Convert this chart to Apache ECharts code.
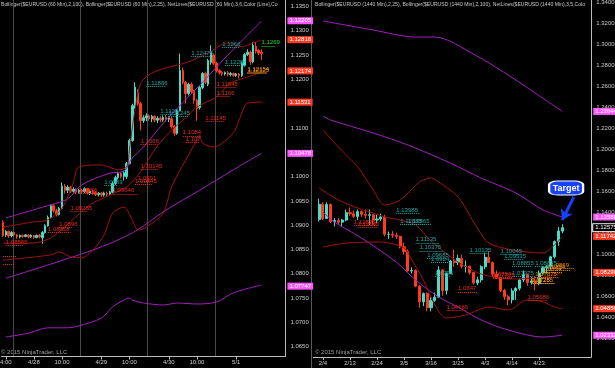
<!DOCTYPE html>
<html><head><meta charset="utf-8">
<script src="https://cdn.jsdelivr.net/npm/echarts@6/dist/echarts.min.js"></script>
<style>html,body{margin:0;padding:0;background:#000;}#c{width:615px;height:368px;}</style>
</head><body><div id="c"></div>
<script>
// ---------------- LEFT PANEL (60 min) ----------------
const leftOpen  = [1.0906,1.0880,1.0887,1.0878,1.0885,1.0880,1.0876,1.0879,1.0877,1.0880,
 1.0876,1.0879,1.0875,1.0879,1.0874,1.0885,1.0899,1.0916,1.0940,1.0930,
 1.0922,1.0935,1.0980,1.0972,1.0978,1.0970,1.0974,1.0968,1.0972,1.0969,
 1.0975,1.0966,1.0970,1.0967,1.0963,1.0966,1.0962,1.0966,1.0964,1.0968,
 1.0986,1.0998,1.1006,1.1000,1.1000,1.1027,1.1074,1.1146,1.1173,1.1150,
 1.1115,1.1121,1.1125,1.1119,1.1124,1.1116,1.1120,1.1117,1.1122,1.1118,
 1.1119,1.1103,1.1089,1.1136,1.1218,1.1194,1.1171,1.1190,1.1175,1.1157,
 1.1142,1.1183,1.1212,1.1190,1.1235,1.1250,1.1233,1.1218,1.1214,1.1211,
 1.1214,1.1210,1.1212,1.1208,1.1211,1.1208,1.1229,1.1251,1.1256,1.1236,
 1.1268,1.1260,1.1256];
const leftClose = [1.0879,1.0887,1.0878,1.0885,1.0880,1.0876,1.0879,1.0877,1.0880,1.0876,
 1.0879,1.0875,1.0879,1.0876,1.0885,1.0899,1.0916,1.0940,1.0930,1.0922,
 1.0935,1.0980,1.0972,1.0978,1.0970,1.0974,1.0968,1.0972,1.0969,1.0975,
 1.0966,1.0970,1.0967,1.0963,1.0966,1.0962,1.0966,1.0964,1.0968,1.0986,
 1.0998,1.1006,1.1000,1.1008,1.1027,1.1074,1.1146,1.1184,1.1150,1.1115,
 1.1121,1.1125,1.1119,1.1124,1.1116,1.1120,1.1117,1.1122,1.1118,1.1121,
 1.1103,1.1089,1.1136,1.1218,1.1194,1.1171,1.1190,1.1175,1.1157,1.1140,
 1.1183,1.1212,1.1194,1.1239,1.1255,1.1233,1.1218,1.1214,1.1211,1.1214,
 1.1210,1.1212,1.1208,1.1211,1.1208,1.1233,1.1251,1.1256,1.1236,1.1270,
 1.1258,1.1254,1.1253];
const leftLow   = [1.0876,1.0876,1.0874,1.0875,1.0877,1.0872,1.0873,1.0874,1.0875,1.0873,
 1.0874,1.0872,1.0873,1.0873,1.0862,1.0883,1.0897,1.0914,1.0926,1.0918,
 1.0920,1.0933,1.0965,1.0966,1.0966,1.0967,1.0964,1.0965,1.0965,1.0966,
 1.0963,1.0962,1.0963,1.0960,1.0959,1.0958,1.0959,1.0960,1.0962,1.0966,
 1.0983,1.0994,1.0996,1.0992,1.0995,1.1025,1.1072,1.1140,1.1146,1.1095,
 1.1110,1.1114,1.1115,1.1112,1.1112,1.1110,1.1112,1.1113,1.1113,1.1112,
 1.1099,1.1084,1.1086,1.1134,1.1190,1.1150,1.1167,1.1170,1.1150,1.1115,
 1.1138,1.1180,1.1190,1.1186,1.1230,1.1229,1.1214,1.1210,1.1207,1.1208,
 1.1206,1.1206,1.1205,1.1205,1.1202,1.1205,1.1226,1.1248,1.1230,1.1233,
 1.1253,1.1250,1.1240];
const leftHigh  = [1.0910,1.0890,1.0889,1.0888,1.0887,1.0882,1.0881,1.0881,1.0882,1.0882,
 1.0881,1.0880,1.0881,1.0882,1.0888,1.0902,1.0920,1.0943,1.0944,1.0934,
 1.0938,1.0988,1.0985,1.0982,1.0981,1.0978,1.0976,1.0975,1.0975,1.0978,
 1.0977,1.0973,1.0972,1.0970,1.0968,1.0968,1.0969,1.0969,1.0971,1.0990,
 1.1002,1.1010,1.1010,1.1012,1.1030,1.1078,1.1150,1.1194,1.1180,1.1154,
 1.1126,1.1130,1.1128,1.1127,1.1126,1.1124,1.1124,1.1126,1.1127,1.1124,
 1.1123,1.1106,1.1139,1.1253,1.1224,1.1197,1.1193,1.1194,1.1178,1.1160,
 1.1186,1.1215,1.1216,1.1242,1.1270,1.1253,1.1236,1.1221,1.1217,1.1216,
 1.1217,1.1215,1.1214,1.1213,1.1213,1.1236,1.1254,1.1262,1.1259,1.1276,
 1.1277,1.1262,1.1262];
const leftTickIdx    = [1, 11, 21, 35, 45, 59, 69, 83];
const leftTickLabels = ['4:00','4/28','10:00','4/29','10:00','4/30','10:00','5/1'];
const leftSessionBreaks = [4, 28, 52, 76];
// Bollinger (2,100) purple and (2,25) dark red : [bar, value]
const leftPurpleUpper = [[1,1.0915],[14,1.0937],[23,1.0954],[28,1.0983],[38,1.1007],[43,1.1011],[46,1.1038],[50,1.1061],[58,1.1116],[70,1.1188],[81,1.1256],[92,1.1320]];
const leftPurpleMid   = [[1,1.0791],[32,1.0849],[46,1.0884],[58,1.0931],[70,1.0972],[82,1.1014],[92,1.1048]];
const leftPurpleLower = [[1,1.0670],[9,1.0678],[16,1.0689],[23,1.0689],[27,1.0693],[35,1.0709],[39,1.0732],[43,1.0746],[45,1.0750],[46,1.0746],[50,1.0740],[57,1.0736],[62,1.0740],[69,1.0738],[76,1.0742],[82,1.0761],[92,1.0777]];
const leftRedUpper = [[0,1.0896],[11,1.0907],[16,1.0911],[21,1.0935],[25,1.0987],[27,1.1020],[35,1.1024],[41,1.1014],[44,1.1020],[45,1.1055],[46,1.1100],[47,1.1137],[49,1.1192],[53,1.1213],[59,1.1225],[65,1.1234],[73,1.1254],[80,1.1275],[85,1.1267],[89,1.1275],[92,1.1281]];
const leftRedMid   = [[0,1.0863],[10,1.0863],[17,1.0874],[24,1.0907],[31,1.0942],[38,1.0962],[44,1.0979],[49,1.1010],[54,1.1055],[59,1.1090],[65,1.1121],[69,1.1143],[76,1.1164],[81,1.1192],[87,1.1205],[92,1.1215]];
const leftRedLower = [[0,1.0828],[17,1.0839],[20,1.0845],[24,1.0835],[28,1.0833],[32,1.0849],[36,1.0880],[39,1.0925],[43,1.0937],[46,1.0911],[48,1.0890],[51,1.0896],[57,1.0925],[60,1.0979],[65,1.1034],[69,1.1075],[70,1.1086],[71,1.1069],[75,1.1061],[82,1.1090],[84,1.1116],[87,1.1151],[92,1.1153]];
// NetLines text levels : [text, fromBar, toBar]
const leftNetTeal   = [['1.12478',67,74],['1.1266',78,84],['1.1228',79,85],['1.11866',51,58],['1.1129',56,62],['1.11245',59,66],['1.0983',36,41]];
const leftNetRed    = [['1.11845',76,83],['1.1166',76,81],['1.11145',72,79],['1.1084',64,70],['1.107',65,70],['1.1066',49,55],['1.10145',49,55],['1.0991',48,53],['1.09846',47,53],['1.09646',39,48],['1.0966',27,34],['1.09285',24,30],['1.0896',20,25],['1.08858',16,24],['1.08585',1,7]];
const leftNetPlain  = [[1.0837,0,5],[1.0820,0,4]];
const leftNetOrange = [['1.12154',87,94],['1.12125',87,94]];
const leftNetGreen  = [['1.1269',92,97]];
const leftPurpleTags = ['1.13205','1.10478','1.07747'];
const leftRedTags    = ['1.12816','1.12174','1.11531'];

// ---------------- RIGHT PANEL (1440 min) ----------------
const rightDates = ['2/3','2/4','2/5','2/6','2/9','2/10','2/11','2/12','2/13','2/16','2/17','2/18','2/19','2/20','2/23','2/24','2/25','2/26','2/27',
 '3/2','3/3','3/4','3/5','3/6','3/9','3/10','3/11','3/12','3/13','3/16','3/17','3/18','3/19','3/20','3/23','3/24','3/25','3/26','3/27','3/30','3/31',
 '4/1','4/2','4/3','4/6','4/7','4/8','4/9','4/10','4/13','4/14','4/15','4/16','4/17','4/20','4/21','4/22','4/23','4/24','4/27','4/28','4/29','4/30','5/1'];
const rightOpen  = [1.1335,1.1480,1.1345,1.1478,1.1315,1.1325,1.1310,1.1330,1.1400,1.1390,1.1365,1.1410,1.1385,1.1375,1.1380,1.1330,1.1340,1.1360,1.1195,
 1.1195,1.1185,1.1175,1.1075,1.1030,1.0845,1.0850,1.0700,1.0550,1.0630,1.0495,1.0565,1.0595,1.0855,1.0660,1.0820,1.0940,1.0925,1.0965,1.0890,1.0890,1.0830,
 1.0730,1.0760,1.0885,1.0975,1.0925,1.0815,1.0780,1.0660,1.0600,1.0570,1.0655,1.0680,1.0760,1.0810,1.0735,1.0750,1.0725,1.0825,1.0875,1.0890,1.0980,1.1125,1.1225];
const rightHigh  = [1.1534,1.1500,1.1498,1.1488,1.1350,1.1350,1.1340,1.1430,1.1450,1.1420,1.1430,1.1420,1.1430,1.1430,1.1385,1.1385,1.1390,1.1380,1.1220,
 1.1225,1.1210,1.1180,1.1115,1.1050,1.0880,1.0860,1.0710,1.0640,1.0640,1.0600,1.0640,1.0890,1.0860,1.0830,1.0950,1.1050,1.1000,1.1000,1.0945,1.0895,1.0835,
 1.0790,1.0900,1.1020,1.1035,1.0935,1.0850,1.0785,1.0675,1.0620,1.0680,1.0690,1.0765,1.0850,1.0820,1.0790,1.0790,1.0850,1.0890,1.0900,1.0990,1.1135,1.1265,1.1290];
const rightLow   = [1.1317,1.1330,1.1340,1.1300,1.1270,1.1285,1.1270,1.1320,1.1370,1.1350,1.1330,1.1360,1.1345,1.1280,1.1285,1.1300,1.1320,1.1175,1.1150,
 1.1160,1.1150,1.1060,1.1000,1.0840,1.0820,1.0690,1.0495,1.0510,1.0462,1.0460,1.0550,1.0590,1.0610,1.0620,1.0815,1.0885,1.0900,1.0870,1.0830,1.0810,1.0715,
 1.0710,1.0735,1.0860,1.0935,1.0790,1.0770,1.0645,1.0570,1.0520,1.0535,1.0570,1.0660,1.0740,1.0705,1.0715,1.0660,1.0710,1.0810,1.0820,1.0860,1.0965,1.1085,1.1205];
const rightClose = [1.1480,1.1345,1.1478,1.1315,1.1325,1.1310,1.1330,1.1400,1.1390,1.1365,1.1410,1.1385,1.1375,1.1380,1.1330,1.1340,1.1360,1.1195,1.1195,
 1.1185,1.1175,1.1075,1.1030,1.0845,1.0850,1.0700,1.0550,1.0630,1.0495,1.0565,1.0595,1.0855,1.0660,1.0820,1.0940,1.0925,1.0965,1.0890,1.0890,1.0830,1.0730,
 1.0760,1.0885,1.0975,1.0925,1.0815,1.0780,1.0660,1.0600,1.0570,1.0655,1.0680,1.0760,1.0810,1.0735,1.0750,1.0725,1.0825,1.0875,1.0890,1.0980,1.1125,1.1225,1.1257];
const rightTickLabels = ['2/4','2/13','2/24','3/5','3/16','3/25','4/3','4/14','4/23'];
const rightPurpleUpper = [[1,1.3226],[14,1.3140],[25,1.3073],[30,1.3073],[40,1.2911],[49,1.2711],[56,1.2540],[63,1.2364]];
const rightPurpleMid   = [[1,1.2321],[3,1.2283],[14,1.2159],[23,1.2045],[34,1.1873],[42,1.1730],[51,1.1588],[58,1.1426],[63,1.1359]];
const rightPurpleLower = [[1,1.1407],[4,1.1311],[11,1.1159],[20,1.0930],[25,1.0759],[31,1.0597],[36,1.0502],[42,1.0378],[49,1.0283],[58,1.0216],[63,1.0233]];
const rightRedUpper = [[1,1.2188],[5,1.2026],[10,1.1835],[14,1.1616],[17,1.1473],[21,1.1521],[26,1.1692],[29,1.1730],[31,1.1692],[36,1.1550],[41,1.1254],[44,1.1111],[50,1.1045],[54,1.1026],[58,1.1016],[61,1.1092],[63,1.1174]];
const rightRedMid   = [[0,1.1635],[5,1.1521],[10,1.1445],[14,1.1397],[17,1.1359],[21,1.1330],[25,1.1283],[29,1.1130],[36,1.0930],[42,1.0816],[50,1.0769],[56,1.0778],[60,1.0797],[63,1.0830]];
const rightRedLower = [[1,1.1073],[7,1.1111],[16,1.1121],[22,1.1064],[24,1.0950],[27,1.0759],[30,1.0521],[33,1.0397],[38,1.0426],[44,1.0502],[49,1.0473],[54,1.0569],[58,1.0550],[61,1.0502],[63,1.0486]];
const rightNetTeal   = [['1.13985',20,26],['1.12885',21,27],['1.12865',23,29],['1.11135',25,31],['1.10375',26,32],['1.09685',28,33],['1.0924',29,34],['1.0796',30,34],
 ['1.10135',39,44],['1.10045',47,52],['1.09535',48,53],['1.08855',50,55],['1.07975',50,56],['1.08875',56,60]];
const rightNetRed    = [['1.12825',9,15],['1.12645',10,15],['1.0647',36,41],['1.04666',33,38],['1.0784',45,50],['1.07725',45,50],['1.05686',54,59]];
const rightNetOrange = [['1.0869',60,66],['1.0854',59,65],['1.0834',58,63],['1.07875',56,62],['1.07285',55,61],['1.0725',55,61]];
const rightPurpleTags = ['1.23644','1.13588','1.02332'];
const rightRedTags    = ['1.11742','1.08299','1.04856'];
const rightPriceTag   = '1.12575';
const targetText = 'Target';

// ---------------- build ----------------
const FONT = 'Liberation Sans';
const UP = '#46dcc8', DOWN = '#ff3c1e', PURPLE = '#a11fbd', DRED = '#a01212';
const TEAL = '#1fa3a3', NRED = '#e8281a', ORANGE = '#f09010', GREEN = '#22dd22';

const LEFT_N = 101, RIGHT_N = 72, RIGHT_OFF = 1;
const leftCats = Array.from({length: LEFT_N}, (_, i) => 'L' + i);
const rightCats = Array.from({length: RIGHT_N}, (_, i) => (i >= RIGHT_OFF && i - RIGHT_OFF < rightDates.length) ? rightDates[i - RIGHT_OFF] : 'R' + i);

const leftCandles = leftOpen.map((o, i) => [o, leftClose[i], leftLow[i], leftHigh[i]]);
const rightCandles = ['-'].concat(rightOpen.map((o, i) => [o, rightClose[i], rightLow[i], rightHigh[i]]));

function net(list, color, off) {
  return list.map(([t, a, b]) => {
    const v = parseFloat(t);
    return [{coord: [a + off, v], lineStyle: {color, type: 'dotted', width: 1},
             label: {show: true, formatter: t, color, position: 'insideStartTop', fontSize: 6, fontFamily: FONT, distance: 0, padding: 0}},
            {coord: [b + off, v]}];
  });
}
function plain(list, color, off) {
  return list.map(([v, a, b]) => [{coord: [a + off, v], lineStyle: {color, type: 'dotted', width: 1}, label: {show: false}}, {coord: [b + off, v]}]);
}
function tag(text, bg, fg, border) {
  return {yAxis: parseFloat(text), lineStyle: {color: 'rgba(0,0,0,0)', width: 0},
          label: {show: true, position: 'end', formatter: text, color: fg || '#fff', backgroundColor: bg,
                  borderColor: border || bg, borderWidth: border ? 1 : 0, padding: [1, 2, 0, 2], fontSize: 6, fontFamily: FONT, distance: 2}};
}
function line(data, color, xi, off) {
  return {type: 'line', xAxisIndex: xi, yAxisIndex: xi, data: data.map(([b, v]) => [b + off, v]), symbol: 'none',
          smooth: 0.3, lineStyle: {color, width: 1}, z: 3, silent: true, animation: false};
}
const leftTickSet = new Map(leftTickIdx.map((k, j) => [k, leftTickLabels[j]]));
const rightTickSet = new Set(rightTickLabels);
const titleFont = '5.1px "Liberation Sans"';

const option = {
  backgroundColor: '#000',
  animation: false,
  textStyle: {fontFamily: FONT},
  grid: [
    {left: 1.6, top: -3.3, width: 283.8, height: 359.8, outerBoundsMode: 'none', containLabel: false},
    {left: 313.3, top: 0.075, width: 277.9, height: 357, outerBoundsMode: 'none', containLabel: false}
  ],
  xAxis: [
    {type: 'category', gridIndex: 0, data: leftCats, boundaryGap: true,
     axisLine: {lineStyle: {color: '#bbb', width: 1}},
     axisTick: {show: true, alignWithLabel: true, length: 3, interval: (i) => leftTickSet.has(i), lineStyle: {color: '#bbb'}},
     axisLabel: {interval: (i) => leftTickSet.has(i), formatter: (v, i) => leftTickSet.get(i) || '', color: '#ccc', fontSize: 6, margin: 3, fontFamily: FONT},
     splitLine: {show: true, interval: (i) => leftSessionBreaks.includes(i), lineStyle: {color: '#4a4a4a', width: 1}}},
    {type: 'category', gridIndex: 1, data: rightCats, boundaryGap: true,
     axisLine: {lineStyle: {color: '#bbb', width: 1}},
     axisTick: {show: true, alignWithLabel: true, length: 3, interval: (i, v) => rightTickSet.has(v), lineStyle: {color: '#bbb'}},
     axisLabel: {interval: (i, v) => rightTickSet.has(v), color: '#ccc', fontSize: 6, margin: 3, fontFamily: FONT},
     splitLine: {show: false}}
  ],
  yAxis: [
    {type: 'value', gridIndex: 0, position: 'right', min: 1.063, max: 1.137, interval: 0.001, scale: true,
     axisLine: {show: true, lineStyle: {color: '#bbb'}}, axisTick: {show: false}, splitLine: {show: false},
     axisLabel: {color: '#ccc', fontSize: 6, margin: 5, fontFamily: FONT,
       formatter: (v) => Math.abs(v * 200 - Math.round(v * 200)) < 1e-6 ? v.toFixed(4) : ''}},
    {type: 'value', gridIndex: 1, position: 'right', min: 1.0025, max: 1.3425, interval: 0.0025, scale: true,
     axisLine: {show: true, lineStyle: {color: '#bbb'}}, axisTick: {show: false}, splitLine: {show: false},
     axisLabel: {color: '#ccc', fontSize: 6, margin: 5, fontFamily: FONT,
       formatter: (v) => Math.abs(v * 50 - Math.round(v * 50)) < 1e-6 ? v.toFixed(4) : ''}}
  ],
  graphic: [
    {type: 'text', left: 1, top: 2, style: {text: 'Bollinger($EURUSD (60 Min),2,100), Bollinger($EURUSD (60 Min),2,25), NetLines($EURUSD (60 Min),3,6,Color [Line],Co', fill: '#c8c8c8', font: titleFont, width: 284, overflow: 'truncate', ellipsis: ''}},
    {type: 'text', left: 315, top: 2, style: {text: 'Bollinger($EURUSD (1440 Min),2,25), Bollinger($EURUSD (1440 Min),2,100), NetLines($EURUSD (1440 Min),3,5,Colo', fill: '#c8c8c8', font: titleFont, width: 275, overflow: 'truncate', ellipsis: ''}},
    {type: 'text', left: 1, top: 349, style: {text: '© 2015 NinjaTrader, LLC', fill: '#a0a0a0', font: '6px "Liberation Sans"'}},
    {type: 'text', left: 315, top: 349, style: {text: '© 2015 NinjaTrader, LLC', fill: '#a0a0a0', font: '6px "Liberation Sans"'}},
    {type: 'line', shape: {x1: 311.5, y1: 0, x2: 311.5, y2: 368}, style: {stroke: '#5a5a5a', lineWidth: 1}}
  ],
  series: [
    {type: 'candlestick', xAxisIndex: 0, yAxisIndex: 0, data: leftCandles, barWidth: 2, z: 2,
     itemStyle: {color: UP, color0: DOWN, borderColor: UP, borderColor0: DOWN, borderWidth: 1},
     markLine: {silent: true, symbol: ['none', 'none'], animation: false, precision: 5,
       data: [].concat(net(leftNetTeal, TEAL, 0), net(leftNetRed, NRED, 0), plain(leftNetPlain, NRED, 0),
                       net(leftNetOrange, ORANGE, 0), net(leftNetGreen, GREEN, 0),
                       leftPurpleTags.map(t => tag(t, '#ff55ff')), leftRedTags.map(t => tag(t, '#ff3a22')))}},
    line(leftPurpleUpper, PURPLE, 0, 0), line(leftPurpleMid, PURPLE, 0, 0), line(leftPurpleLower, PURPLE, 0, 0),
    line(leftRedUpper, DRED, 0, 0), line(leftRedMid, DRED, 0, 0), line(leftRedLower, DRED, 0, 0),
    {type: 'candlestick', xAxisIndex: 1, yAxisIndex: 1, data: rightCandles, barWidth: 2.6, z: 2,
     itemStyle: {color: UP, color0: DOWN, borderColor: UP, borderColor0: DOWN, borderWidth: 1},
     markLine: {silent: true, symbol: ['none', 'none'], animation: false, precision: 5,
       data: [].concat(net(rightNetTeal, TEAL, RIGHT_OFF), net(rightNetRed, NRED, RIGHT_OFF), net(rightNetOrange, ORANGE, RIGHT_OFF),
                       rightPurpleTags.map(t => tag(t, '#ff55ff')), rightRedTags.map(t => tag(t, '#ff3a22')),
                       [tag(rightPriceTag, '#000', '#fff', '#fff')])}},
    line(rightPurpleUpper, PURPLE, 1, RIGHT_OFF),
    Object.assign(line(rightPurpleMid, PURPLE, 1, RIGHT_OFF), {
      markPoint: {silent: true, animation: false, data: [{coord: [65, 1.1635], symbol: 'roundRect', symbolSize: [34, 14],
        itemStyle: {color: '#1840ff', borderColor: '#ffffff', borderWidth: 1.5},
        label: {show: true, position: 'inside', formatter: targetText, color: '#fff', fontSize: 9, fontWeight: 'bold', fontFamily: FONT}}]},
      markLine: {silent: true, animation: false, symbol: ['none', 'arrow'], symbolSize: 10, precision: 5,
        data: [[{coord: [67, 1.1550], lineStyle: {color: '#1840ff', width: 3, type: 'solid'}, label: {show: false}}, {coord: [64, 1.1330]}]]}
    }),
    line(rightPurpleLower, PURPLE, 1, RIGHT_OFF),
    line(rightRedUpper, DRED, 1, RIGHT_OFF), line(rightRedMid, DRED, 1, RIGHT_OFF), line(rightRedLower, DRED, 1, RIGHT_OFF)
  ]
};
const chart = echarts.init(document.getElementById('c'));
chart.setOption(option);
</script></body></html>
